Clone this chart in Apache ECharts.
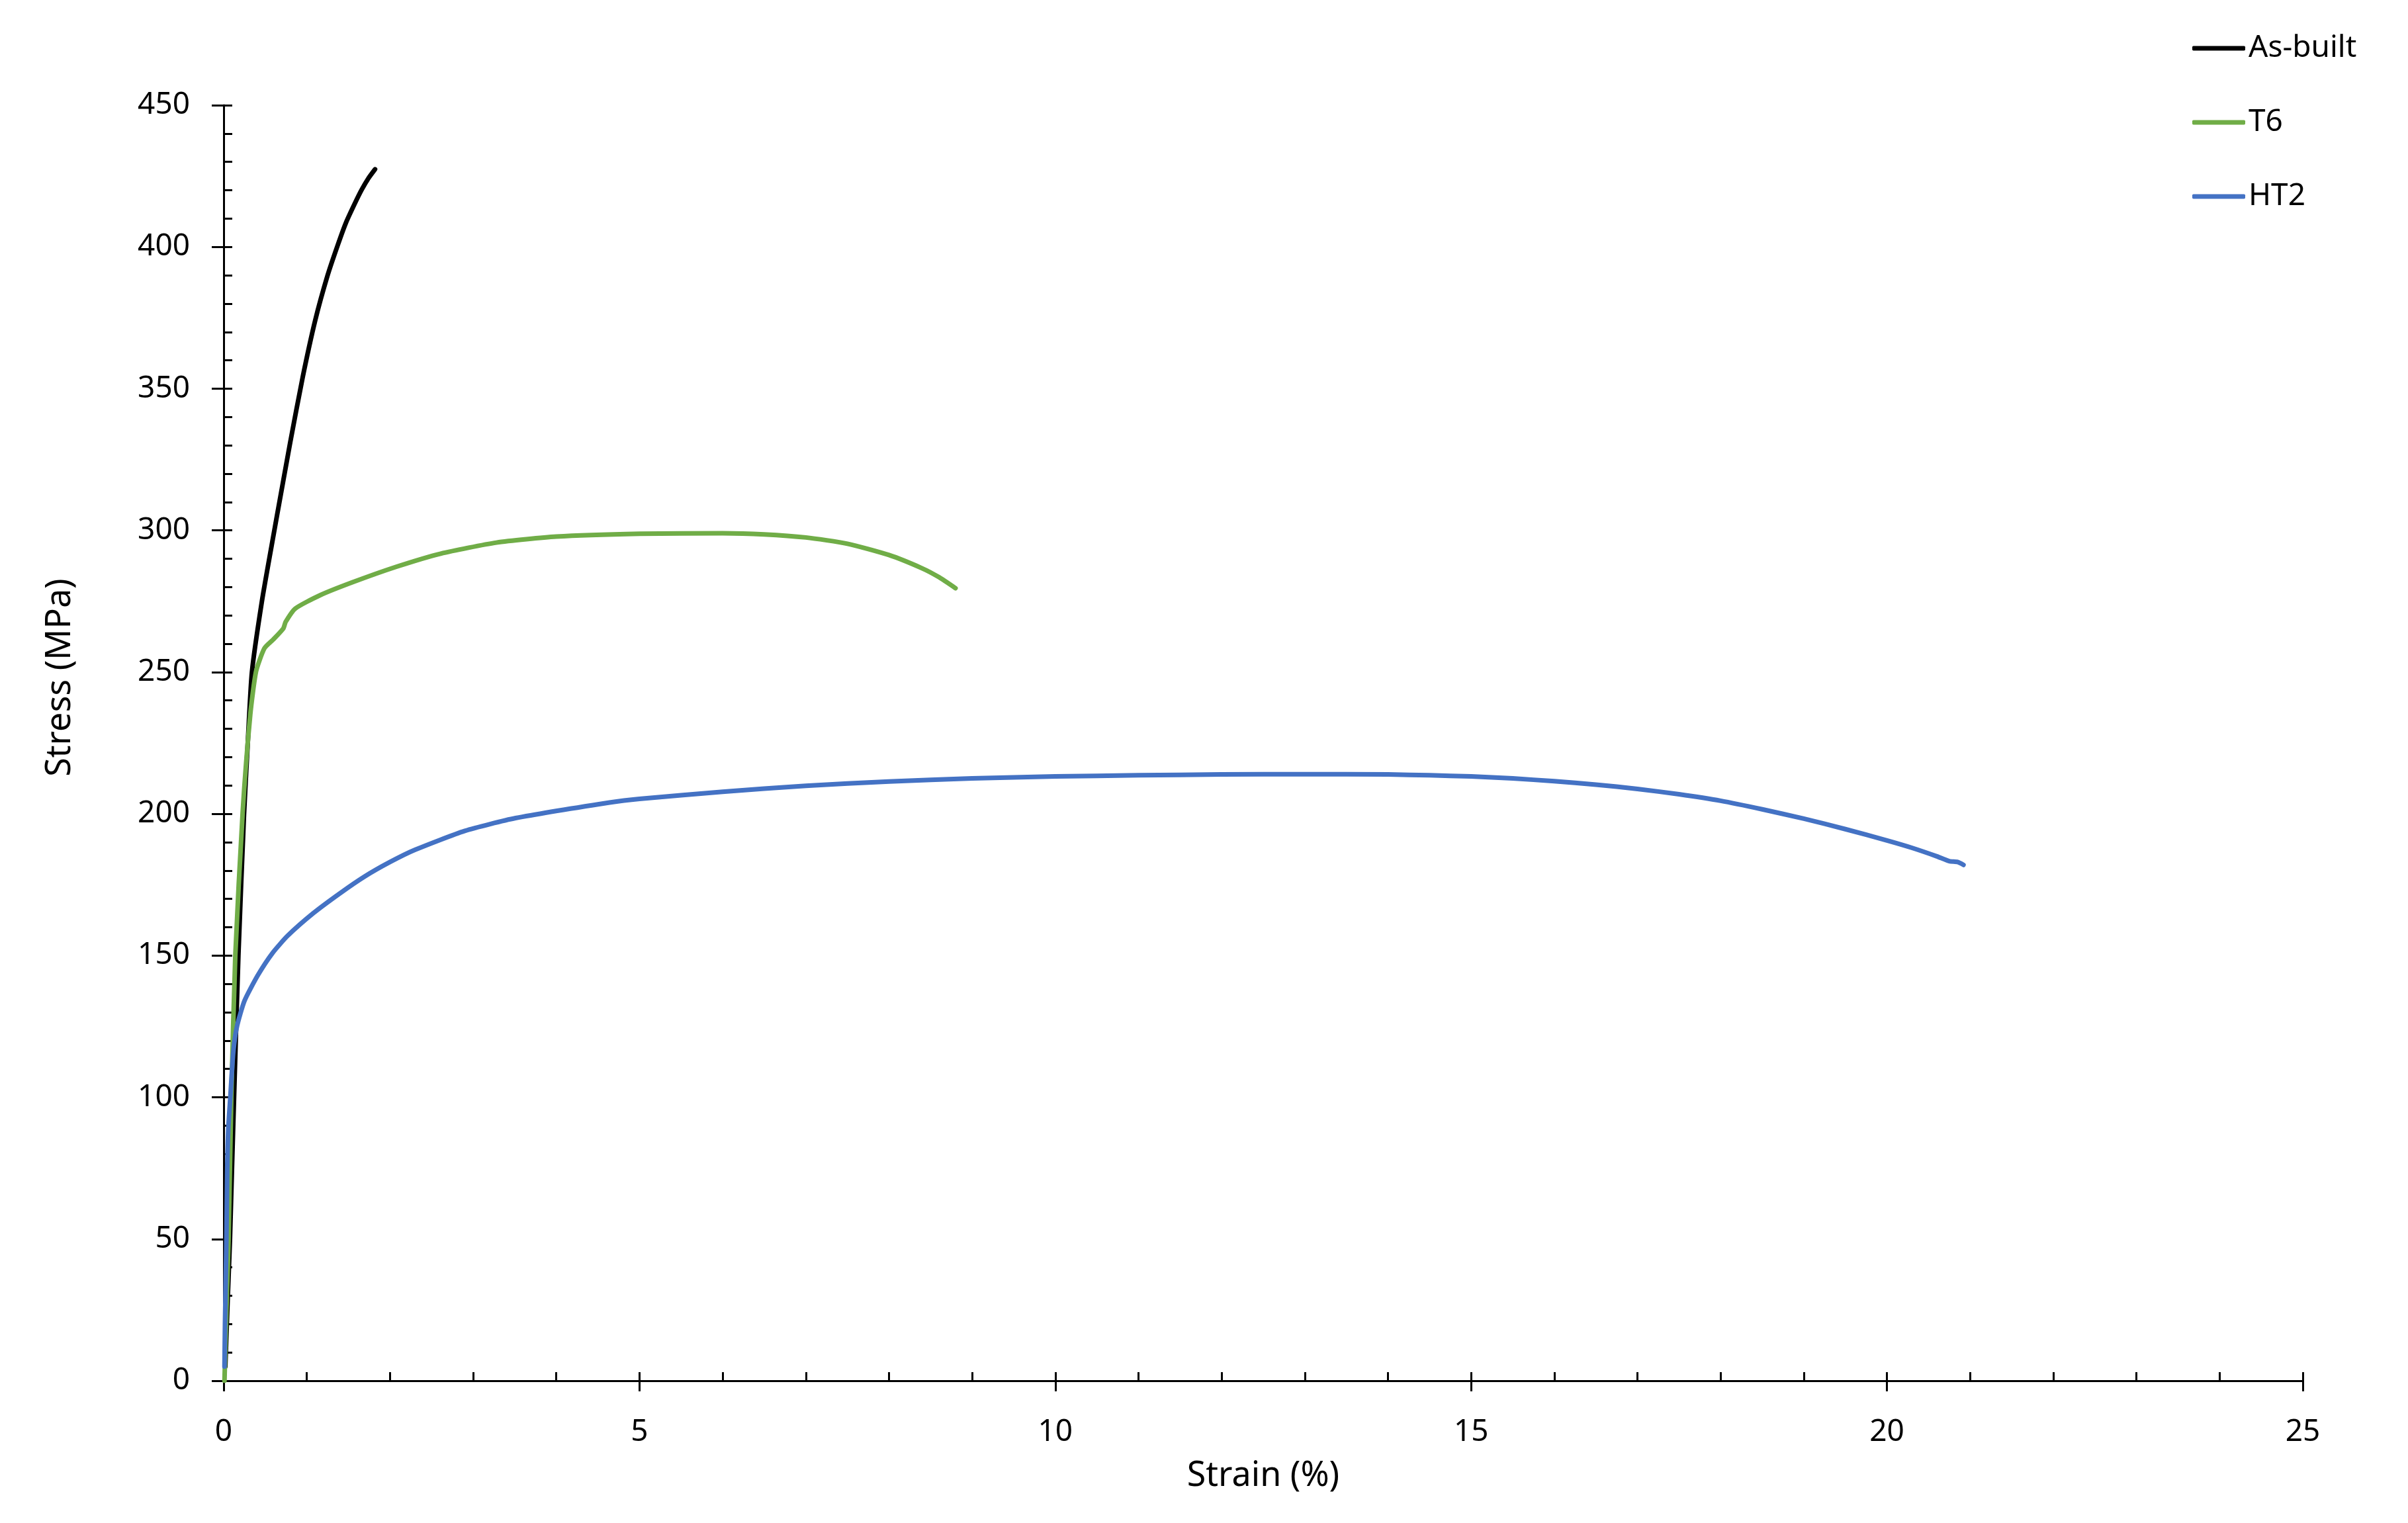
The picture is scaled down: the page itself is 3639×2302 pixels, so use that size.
<!DOCTYPE html>
<html>
<head>
<meta charset="utf-8">
<script src="https://cdn.jsdelivr.net/npm/echarts@6/dist/echarts.min.js"></script>
<style>
  html, body { margin: 0; padding: 0; background: #fff; }
  #chart { width: 3639px; height: 2302px; }
</style>
</head>
<body>
<div id="chart"></div>
<script>
// series names, in legend order
var seriesNames = ['As-built', 'T6', 'HT2'];
var seriesColors = ['#000000', '#70AD47', '#4472C4'];

// As-built: strain (%) and stress (MPa)
var asBuiltStrain = [0.02, 0.05, 0.076, 0.10, 0.125, 0.177, 0.245, 0.29, 0.34, 0.46, 0.585, 0.64, 0.80, 0.95, 1.10, 1.25, 1.37, 1.47, 1.58, 1.66, 1.74, 1.82];
var asBuiltStress = [5, 30, 50, 75, 100, 150, 200, 225, 250, 275, 296, 305, 331, 354, 374, 390, 400.5, 408.5, 415.5, 420.2, 424.2, 427.4];

// T6
var t6Strain = [0.01, 0.033, 0.059, 0.092, 0.14, 0.228, 0.32, 0.39, 0.49, 0.596, 0.717, 0.745, 0.86, 1.15, 1.55, 2.08, 2.61, 3.28, 4.0, 5.0, 6.0, 6.5, 7.0, 7.5, 8.0, 8.4, 8.6, 8.8];
var t6Stress = [0, 25, 50, 100, 150, 200.3, 235, 250.3, 258.4, 261.5, 265.4, 267.7, 272.4, 277, 281.7, 287.2, 291.8, 295.7, 297.8, 298.8, 299, 298.6, 297.5, 295.3, 291.3, 286.6, 283.5, 279.6];

// HT2
var ht2Strain = [0.01, 0.016, 0.033, 0.043, 0.056, 0.08, 0.116, 0.16, 0.25, 0.41, 0.59, 0.77, 1.08, 1.4, 1.69, 2.0, 2.30, 2.90, 3.51, 4.64, 5.0, 6.0, 7.0, 8.0, 9.0, 10.0, 11.0, 12.0, 13.0, 14.0, 14.5, 15.0, 15.5, 16.0, 16.5, 17.0, 17.5, 18.0, 18.5, 19.0, 19.5, 20.0, 20.3, 20.6, 20.75, 20.85, 20.92];
var ht2Stress = [5, 20, 50, 75, 89, 100, 116, 125, 134, 143, 151, 157, 165, 172, 177.8, 183, 187.3, 194, 198.5, 204, 205.3, 207.8, 209.9, 211.4, 212.5, 213.2, 213.6, 213.9, 214, 213.9, 213.6, 213.2, 212.5, 211.5, 210.3, 208.8, 206.9, 204.6, 201.6, 198.3, 194.6, 190.6, 188, 185, 183.3, 183, 182];

var axisFont = 'Noto Sans';

function pairs(xs, ys) {
    var out = [];
    for (var i = 0; i < xs.length; i++) {
        out.push([xs[i], ys[i]]);
    }
    return out;
}

var seriesData = [
    pairs(asBuiltStrain, asBuiltStress),
    pairs(t6Strain, t6Stress),
    pairs(ht2Strain, ht2Stress)
];

var chart = echarts.init(document.getElementById('chart'));

var axisLine = { show: true, lineStyle: { color: '#000', width: 3 } };

var option = {
    animation: false,
    backgroundColor: '#fff',
    grid: {
        left: 338,
        top: 159,
        right: 159,
        bottom: 215,
        containLabel: false,
        outerBoundsMode: 'none'
    },
    legend: {
        orient: 'vertical',
        left: 3313,
        top: 50,
        padding: 0,
        icon: 'roundRect',
        itemWidth: 80,
        itemHeight: 7,
        itemGap: 66,
        textStyle: { fontFamily: axisFont, fontSize: 46, color: '#000' },
        data: seriesNames
    },
    xAxis: [
        {
            type: 'value',
            position: 'bottom',
            min: 0,
            max: 25,
            interval: 5,
            axisLine: axisLine,
            axisTick: { show: true, inside: true, length: 13, lineStyle: { color: '#000', width: 3 } },
            minorTick: { show: true, splitNumber: 5, length: 13, lineStyle: { color: '#000', width: 3 } },
            splitLine: { show: false },
            axisLabel: { fontFamily: axisFont, fontSize: 46, color: '#000', margin: 55 },
            name: 'Strain (%)',
            nameLocation: 'middle',
            nameGap: 118,
            nameTextStyle: { fontFamily: axisFont, fontSize: 52, color: '#000' }
        },
        {
            // outer half of the major ticks (they cross the axis line)
            type: 'value',
            position: 'bottom',
            min: 0,
            max: 25,
            interval: 5,
            axisLine: { show: false },
            axisTick: { show: true, inside: false, length: 16, lineStyle: { color: '#000', width: 3 } },
            splitLine: { show: false },
            axisLabel: { show: false }
        }
    ],
    yAxis: [
        {
            type: 'value',
            position: 'left',
            min: 0,
            max: 450,
            interval: 50,
            axisLine: axisLine,
            axisTick: { show: true, inside: true, length: 13, lineStyle: { color: '#000', width: 3 } },
            minorTick: { show: true, splitNumber: 5, length: 13, lineStyle: { color: '#000', width: 3 } },
            splitLine: { show: false },
            axisLabel: { fontFamily: axisFont, fontSize: 46, color: '#000', margin: 51 }
        },
        {
            type: 'value',
            position: 'left',
            min: 0,
            max: 450,
            interval: 50,
            axisLine: { show: false },
            axisTick: { show: true, inside: false, length: 18, lineStyle: { color: '#000', width: 3 } },
            splitLine: { show: false },
            axisLabel: { show: false }
        }
    ],
    graphic: [
        {
            type: 'text',
            x: 91,
            y: 1024,
            rotation: Math.PI / 2,
            style: {
                text: 'Stress (MPa)',
                fontFamily: axisFont,
                fontSize: 52,
                fill: '#000',
                align: 'center',
                verticalAlign: 'middle'
            }
        }
    ],
    series: seriesNames.map(function (name, i) {
        return {
            name: name,
            type: 'line',
            xAxisIndex: 0,
            yAxisIndex: 0,
            data: seriesData[i],
            symbol: 'none',
            showSymbol: false,
            smooth: 0.2,
            color: seriesColors[i],
            itemStyle: { color: seriesColors[i] },
            lineStyle: { color: seriesColors[i], width: 7, cap: 'round', join: 'round' }
        };
    })
};

chart.setOption(option);
</script>
</body>
</html>
